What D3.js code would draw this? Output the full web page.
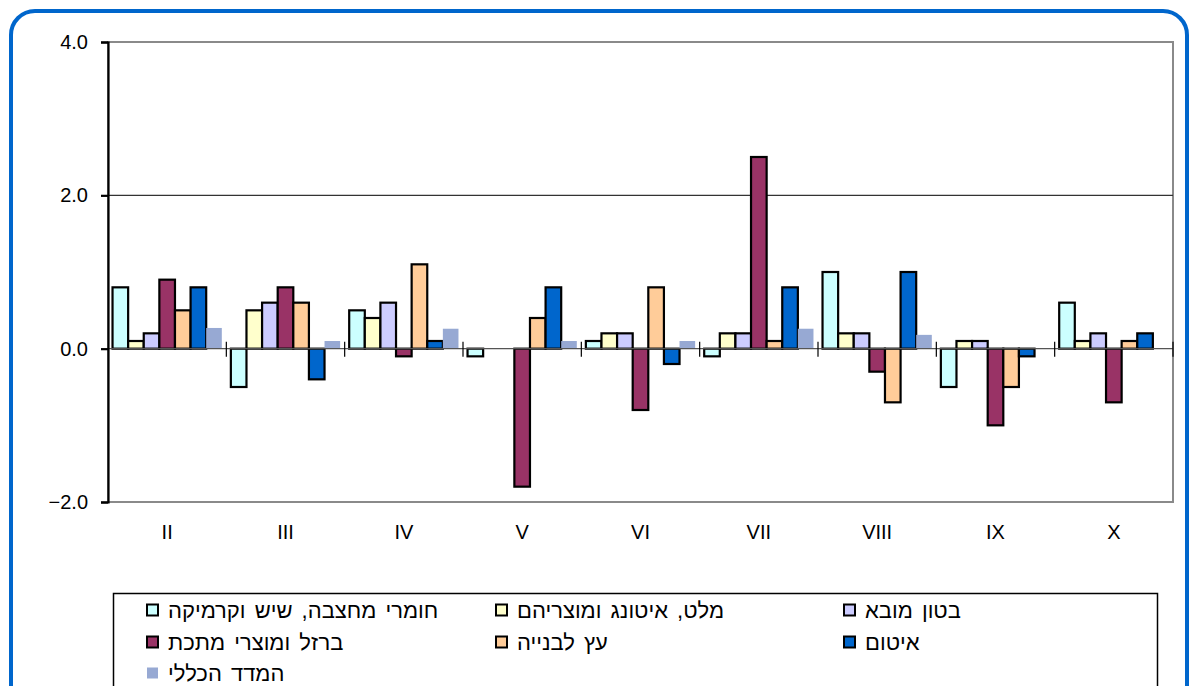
<!DOCTYPE html>
<html><head><meta charset="utf-8">
<script src="https://cdn.jsdelivr.net/npm/d3@7"></script>
<style>html,body{margin:0;padding:0;background:#fff;}svg{display:block;}</style>
</head><body>
<svg id="c" width="1195" height="686"></svg>
<script>
const categories = ["II","III","IV","V","VI","VII","VIII","IX","X"];
const seriesNames = ["חומרי מחצבה, שיש וקרמיקה","מלט, איטונג ומוצריהם","בטון מובא","ברזל ומוצרי מתכת","עץ לבנייה","איטום","המדד הכללי"];
const seriesColors = ["#CCFFFF","#FFFFCC","#CCCCFF","#993366","#FFCC99","#0066CC","#97A9D3"];
const quarry   = [0.8,-0.5,0.5,-0.1,0.1,-0.1,1.0,-0.5,0.6];
const cement   = [0.1,0.5,0.4,0,0.2,0.2,0.2,0.1,0.1];
const concrete = [0.2,0.6,0.6,0,0.2,0.2,0.2,0.1,0.2];
const iron     = [0.9,0.8,-0.1,-1.8,-0.8,2.5,-0.3,-1.0,-0.7];
const wood     = [0.5,0.6,1.1,0.4,0.8,0.1,-0.7,-0.5,0.1];
const sealing  = [0.8,-0.4,0.1,0.8,-0.2,0.8,1.0,-0.1,0.2];
const general  = [0.27,0.1,0.26,0.1,0.1,0.26,0.18,0,0];
const yTicks = [-2,0,2,4];
const seriesValues = [quarry,cement,concrete,iron,wood,sealing,general];

const svg = d3.select("#c");
const font = "'Liberation Sans', Arial, sans-serif";

// outer frame
svg.append("rect").attr("x",11).attr("y",11).attr("width",1176).attr("height",720)
  .attr("rx",24).attr("ry",24).attr("fill","#fff").attr("stroke","#0066CC").attr("stroke-width",4);

const L=108, R=1173, T=42, B=502;
const x = d3.scaleBand().domain(categories).range([L,R]).paddingInner(0).paddingOuter(0);
const xs = d3.scaleBand().domain(d3.range(7)).range([0,x.bandwidth()]).paddingInner(0).paddingOuter(0.29);
const y = d3.scaleLinear().domain([-2,4]).range([B,T]);

// plot border (gray)
svg.append("rect").attr("x",L).attr("y",T).attr("width",R-L).attr("height",B-T)
  .attr("fill","none").attr("stroke","#8a8a8a").attr("stroke-width",2);

// gridline at 2.0
svg.append("line").attr("x1",L).attr("x2",R).attr("y1",y(2)).attr("y2",y(2))
  .attr("stroke","#333").attr("stroke-width",1.2);

// bars
const g = svg.append("g");
seriesValues.forEach((vals,si)=>{
  g.selectAll(null).data(vals.map((v,i)=>({v,c:categories[i]}))).enter()
   .filter(d=>d.v!==0)
   .append("rect")
   .attr("x",d=>x(d.c)+xs(si))
   .attr("width",xs.bandwidth())
   .attr("y",d=>y(Math.max(0,d.v)))
   .attr("height",d=>Math.abs(y(d.v)-y(0)))
   .attr("fill",seriesColors[si])
   .attr("stroke",si===6?"none":"#000")
   .attr("stroke-width",2.2);
});

// zero line
svg.append("line").attr("x1",L).attr("x2",R).attr("y1",y(0)).attr("y2",y(0))
  .attr("stroke","#555").attr("stroke-width",1.2);

// x ticks crossing zero line at band boundaries
const bounds = categories.map(c=>x(c)).concat([R]);
svg.selectAll(null).data(bounds.slice(1)).enter().append("line")
  .attr("x1",d=>d).attr("x2",d=>d).attr("y1",y(0)-7).attr("y2",y(0)+8)
  .attr("stroke","#000").attr("stroke-width",1.2);

// y axis
const yAxis = d3.axisLeft(y).tickValues(yTicks).tickFormat(d3.format(".1f")).tickSize(7).tickPadding(13);
const ya = svg.append("g").attr("transform",`translate(${L},0)`).call(yAxis);
ya.select(".domain").attr("stroke","#000").attr("stroke-width",2.2);
ya.selectAll(".tick line").attr("stroke","#000").attr("stroke-width",2.2);
ya.selectAll(".tick text").attr("font-family",font).attr("font-size",20).attr("fill","#000");

// x labels
svg.selectAll(null).data(categories).enter().append("text")
  .attr("x",d=>x(d)+x.bandwidth()/2).attr("y",532).attr("dy","0.35em")
  .attr("text-anchor","middle").attr("font-family",font).attr("font-size",20).text(d=>d);

// legend
svg.append("rect").attr("x",113.5).attr("y",593.5).attr("width",1044).attr("height",110)
  .attr("fill","#fff").attr("stroke","#000").attr("stroke-width",1.5);
const colX = [147,496,844];
const rowY = [610,642,673];
seriesNames.forEach((n,i)=>{
  const cx = colX[i%3], cy = rowY[Math.floor(i/3)];
  svg.append("rect").attr("x",cx).attr("y",cy-5.5).attr("width",11).attr("height",11)
    .attr("fill",seriesColors[i]).attr("stroke",i===6?"none":"#000").attr("stroke-width",2);
  svg.append("text").attr("x",cx+21).attr("y",cy).attr("dy","0.35em")
    .attr("font-family",font).attr("font-size",22).attr("word-spacing",3).text(n);
});
</script>
</body></html>
